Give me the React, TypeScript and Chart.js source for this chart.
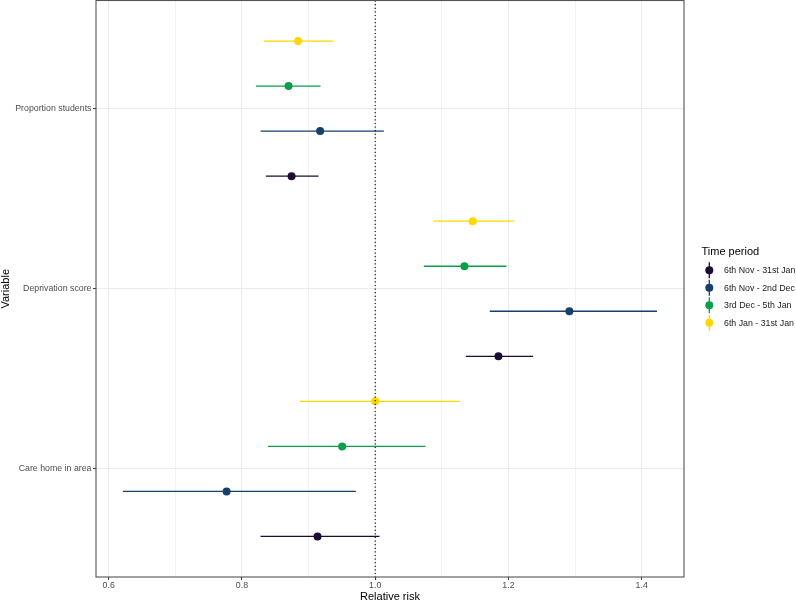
import React, { useEffect, useRef } from "react";
import { Chart, registerables } from "chart.js";

Chart.register(...registerables);

// Categories from bottom (1) to top (3)
const categories = ["Care home in area", "Deprivation score", "Proportion students"];
const seriesNames = ["6th Nov - 31st Jan", "6th Nov - 2nd Dec", "3rd Dec - 5th Jan", "6th Jan - 31st Jan"];
const seriesColors = ["#1d0c34", "#173f6b", "#0b9e4b", "#ffd700"];

// Values per series, in category order [Care home, Deprivation, Proportion students]
const estNov31Jan = [0.9135, 1.185, 0.8745];
const estNov2Dec = [0.777, 1.2915, 0.9174];
const estDec5Jan = [0.9504, 1.134, 0.87];
const estJan31Jan = [1.0, 1.1465, 0.8844];

const lowNov31Jan = [0.828, 1.136, 0.836];
const lowNov2Dec = [0.6215, 1.172, 0.828];
const lowDec5Jan = [0.839, 1.073, 0.821];
const lowJan31Jan = [0.887, 1.088, 0.833];

const highNov31Jan = [1.0065, 1.237, 0.915];
const highNov2Dec = [0.971, 1.423, 1.013];
const highDec5Jan = [1.0755, 1.197, 0.918];
const highJan31Jan = [1.127, 1.209, 0.9375];

const xMajorTicks = [0.6, 0.8, 1.0, 1.2, 1.4];
const xMinorTicks = [0.7, 0.9, 1.1, 1.3];
const referenceValue = 1.0;

const estimates = [estNov31Jan, estNov2Dec, estDec5Jan, estJan31Jan];
const lows = [lowNov31Jan, lowNov2Dec, lowDec5Jan, lowJan31Jan];
const highs = [highNov31Jan, highNov2Dec, highDec5Jan, highJan31Jan];

const FONT = "'Liberation Sans', Arial, Helvetica, sans-serif";
const dodge = [-0.375, -0.125, 0.125, 0.375];

const errorBarPlugin = {
  id: "errorBars",
  beforeDatasetsDraw(chart: any) {
    const { ctx, scales } = chart;
    const xs = scales.x;
    const ys = scales.y;
    chart.data.datasets.forEach((ds: any) => {
      ctx.save();
      ctx.strokeStyle = ds.backgroundColor;
      ctx.lineWidth = 1.3;
      ds.data.forEach((p: any) => {
        const y = ys.getPixelForValue(p.y);
        ctx.beginPath();
        ctx.moveTo(xs.getPixelForValue(p.lo), y);
        ctx.lineTo(xs.getPixelForValue(p.hi), y);
        ctx.stroke();
      });
      ctx.restore();
    });
  },
  afterDatasetsDraw(chart: any) {
    const { ctx, scales, chartArea } = chart;
    const x = scales.x.getPixelForValue(referenceValue);
    ctx.save();
    ctx.strokeStyle = "#000";
    ctx.lineWidth = 1.1;
    ctx.setLineDash([1.2, 2.4]);
    ctx.beginPath();
    ctx.moveTo(x, chartArea.top);
    ctx.lineTo(x, chartArea.bottom);
    ctx.stroke();
    ctx.restore();
    // panel border
    ctx.save();
    ctx.strokeStyle = "#555555";
    ctx.lineWidth = 1.1;
    ctx.strokeRect(chartArea.left, chartArea.top, chartArea.right - chartArea.left, chartArea.bottom - chartArea.top);
    ctx.restore();
  },
  afterDraw(chart: any) {
    const { ctx } = chart;
    ctx.save();
    ctx.fillStyle = "#000";
    ctx.font = `11px ${FONT}`;
    ctx.textBaseline = "middle";
    ctx.textAlign = "left";
    ctx.fillText("Time period", 701.5, 251.5);
    const keyX = 709.3;
    const y0 = 270.3;
    const step = 17.5;
    chart.data.datasets.forEach((ds: any, i: number) => {
      const y = y0 + i * step;
      ctx.strokeStyle = ds.backgroundColor;
      ctx.lineWidth = 1.3;
      ctx.beginPath();
      ctx.moveTo(keyX, y - 8);
      ctx.lineTo(keyX, y + 8);
      ctx.stroke();
      ctx.fillStyle = ds.backgroundColor;
      ctx.beginPath();
      ctx.arc(keyX, y, 4, 0, Math.PI * 2);
      ctx.fill();
      ctx.fillStyle = "#1a1a1a";
      ctx.font = `8.8px ${FONT}`;
      ctx.fillText(ds.label, 724, y + 0.5);
    });
    ctx.restore();
  },
};

export default function App() {
  const canvasRef = useRef<HTMLCanvasElement | null>(null);

  useEffect(() => {
    document.body.style.margin = "0";
    const canvas = canvasRef.current;
    if (!canvas) return;
    Chart.defaults.font.family = FONT;

    const datasets = seriesNames.map((name, s) => ({
      label: name,
      backgroundColor: seriesColors[s],
      borderColor: seriesColors[s],
      borderWidth: 0,
      pointRadius: 4,
      pointHoverRadius: 4,
      data: categories.map((_, c) => ({
        x: estimates[s][c],
        y: c + 1 + dodge[s],
        lo: lows[s][c],
        hi: highs[s][c],
      })),
    }));

    const allX = [...xMajorTicks, ...xMinorTicks].sort((a, b) => a - b);
    const isMajor = (v: number) => xMajorTicks.some((m) => Math.abs(m - v) < 1e-9);

    const chart = new Chart(canvas, {
      type: "scatter",
      data: { datasets },
      plugins: [errorBarPlugin],
      options: {
        animation: false,
        responsive: false,
        events: [],
        layout: { autoPadding: false, padding: { left: 0, right: 112, top: 0.5, bottom: 0 } },
        plugins: { legend: { display: false }, tooltip: { enabled: false } },
        scales: {
          x: {
            type: "linear",
            min: 0.581,
            max: 1.4635,
            afterBuildTicks: (scale: any) => {
              scale.ticks = allX.map((v) => ({ value: v }));
            },
            afterFit: (scale: any) => {
              scale.height = 25;
              scale.paddingLeft = 0;
              scale.paddingRight = 0;
            },
            ticks: {
              autoSkip: false,
              maxRotation: 0,
              padding: 0,
              color: "#4d4d4d",
              font: { size: 8.8, family: FONT },
              callback: (v: any) => (isMajor(Number(v)) ? Number(v).toFixed(1) : ""),
            },
            grid: {
              color: "#ebebeb",
              lineWidth: (ctx: any) => (isMajor(ctx.tick?.value) ? 1.1 : 0.6),
              tickColor: (ctx: any) => (isMajor(ctx.tick?.value) ? "#333333" : "rgba(0,0,0,0)"),
              tickLength: 3,
              tickWidth: 1,
            },
            border: { display: false },
            title: {
              display: true,
              text: "Relative risk",
              color: "#000",
              font: { size: 11, family: FONT, lineHeight: 1 },
              padding: { top: 0, bottom: 0 },
            },
          },
          y: {
            type: "linear",
            min: 0.4,
            max: 3.6,
            afterBuildTicks: (scale: any) => {
              scale.ticks = categories.map((_, i) => ({ value: i + 1 }));
            },
            afterFit: (scale: any) => {
              scale.width = 96;
              scale.paddingTop = 0;
              scale.paddingBottom = 0;
            },
            ticks: {
              autoSkip: false,
              padding: 1.5,
              color: "#4d4d4d",
              font: { size: 8.8, family: FONT },
              callback: (v: any) => categories[Math.round(Number(v)) - 1] ?? "",
            },
            grid: {
              color: "#ebebeb",
              lineWidth: 1.1,
              tickColor: "#333333",
              tickLength: 3,
              tickWidth: 1,
            },
            border: { display: false },
            title: {
              display: true,
              text: "Variable",
              color: "#000",
              font: { size: 11, family: FONT, lineHeight: 1 },
              padding: { top: 0, bottom: 0 },
            },
          },
        },
      },
    } as any);

    return () => chart.destroy();
  }, []);

  return (
    <div style={{ width: 796, height: 602 }}>
      <canvas ref={canvasRef} width={796} height={602} style={{ width: 796, height: 602, display: "block" }} />
    </div>
  );
}
